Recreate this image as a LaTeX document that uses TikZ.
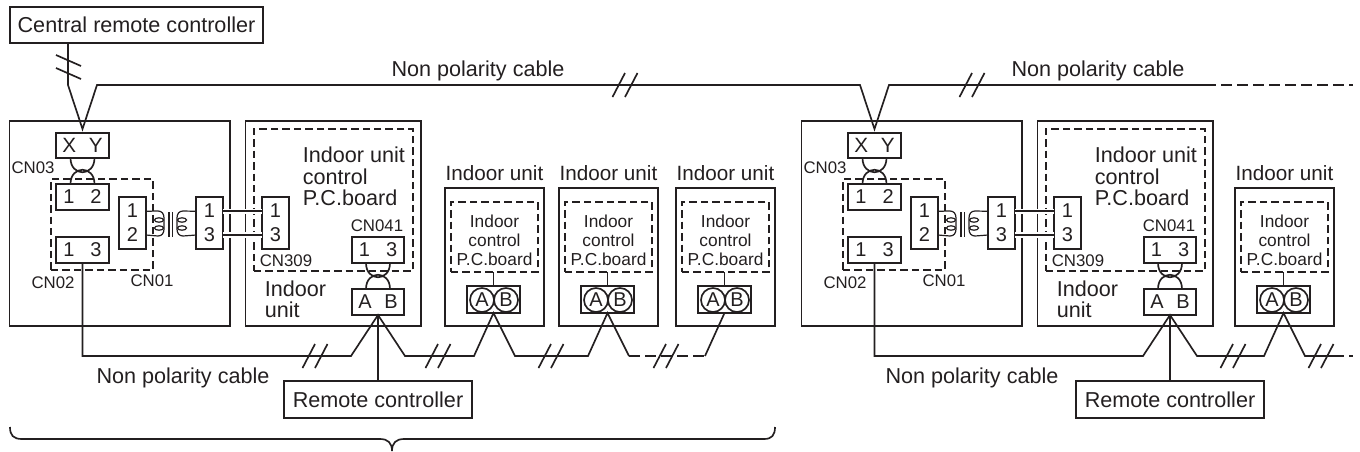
\documentclass[tikz,border=0pt]{standalone}
\usepackage{fontspec}
\setmainfont{Liberation Sans}
\definecolor{wire ink}{RGB}{35,31,32}
\newcommand{\crossarcs}[2]{
	\draw ([xshift=-9pt]#1.south) .. controls +(0,19) and +(0,19) .. ([xshift=9pt]#1.south);
	\draw ([xshift=-9pt]#2.north) .. controls +(0,-19) and +(0,-19) .. ([xshift=9pt]#2.north);
}
\begin{document}
\begin{tikzpicture}[
					x=0.75pt, y=-0.75pt,
					line width=1.25pt, draw=wire ink, text=wire ink,
					wh/.style 2 args={minimum width=#1*0.75pt, minimum height=#2*0.75pt},
					base box/.style={draw, inner sep=0pt, outer sep=0pt},
					unit box/.style={base box},
					board box/.style={base box, dash pattern=on 5.6pt off 3pt},
					pin box/.style={base box, font=\fontsize{15}{18}\selectfont, align=center},
					pin ring/.style={base box, circle, minimum size=18pt, font=\fontsize{15}{16}\selectfont},
					main label/.style={inner sep=0pt, font=\fontsize{16.2}{16}\selectfont},
					unit label/.style={inner sep=0pt, font=\fontsize{15.5}{16}\selectfont},
					board label/.style={inner sep=0pt, align=center, font=\fontsize{13}{14.3}\selectfont},
					cn label/.style={inner sep=0pt, font=\fontsize{12.6}{14}\selectfont},
					coil line/.style={line width=0.9pt},
					halo wire/.style={preaction={draw=white, line width=4pt}},
					late dash/.style={dash pattern=on 8pt off 4pt},
					cable break/.pic={
						\draw (-12.5,12) -- (0,-12);
						\draw (0,12) -- (12.5,-12);
					},
				]
	\useasboundingbox (0,0) rectangle (1360,451);

	\node[base box, main label, inner sep=0pt, wh={253}{36}] (central) at (136.5,25) {Central remote controller};
	\node[main label] at (478,71) {Non polarity cable};
	\node[main label] at (1098,71) {Non polarity cable};
	\node[main label] at (183,378) {Non polarity cable};
	\node[main label] at (972,378) {Non polarity cable};

	% the two adapter and main unit panels
	\foreach \p/\off in {0/0,1/792} {
		\begin{scope}[shift={(\off,0)}]
			\node[unit box, wh={220.5}{205}] (adapter\p) at (119.75,223.5) {};
			\node[unit box, wh={175.5}{205}] (main\p) at (333.25,223.5) {};
			\node[board box, wh={102}{91}] (cnboard\p) at (102,224.5) {};
			\node[board box, wh={159}{142}] (mainboard\p) at (333.5,200) {};

			\node[pin box, font=\fontsize{15.5}{18}\selectfont, wh={53}{25}] (xy\p) at (82.5,145.5) {X\hspace{9.5pt}Y};
			\node[pin box, wh={53}{26}] (cnup\p) at (82.5,197) {1\hspace{12pt}2};
			\node[pin box, wh={53}{26}] (cnlow\p) at (82.5,250) {1\hspace{12pt}3};
			\node[pin box, wh={27}{52}] (cnleft\p) at (132.5,223) {1\\2};
			\node[pin box, wh={27}{52}] (cnright\p) at (209.5,223) {1\\3};
			\node[pin box, wh={27}{52}] (cnmain\p) at (275.5,223) {1\\3};
			\node[pin box, wh={52}{26}] (cnrc\p) at (378,250) {1\hspace{12pt}3};
			\node[pin box, wh={52}{26}] (ab\p) at (378,302) {A\hspace{9.5pt}B};

			\node[cn label] at (33,168) {CN03};
			\node[cn label] at (53,283) {CN02};
			\node[cn label] at (152,281) {CN01};
			\node[cn label] at (286,261) {CN309};
			\node[cn label] at (377,226) {CN041};
			\node[main label, anchor=north west, align=left, font=\fontsize{16.2}{16.2}\selectfont] at (302,146) {Indoor unit\\control\\P.C.board};
			\node[main label, anchor=north west, align=left, font=\fontsize{16.2}{16}\selectfont] at (264,280) {Indoor\\unit};

			\node[base box, main label, wh={188}{37}] (remote\p) at (378,399.5) {Remote controller};

			\crossarcs{xy\p}{cnup\p}
			\crossarcs{cnrc\p}{ab\p}

			% transformer
			\coordinate (lefttop\p) at ([yshift=8.8pt]cnleft\p.east);
			\coordinate (leftlow\p) at ([yshift=-9pt]cnleft\p.east);
			\coordinate (righttop\p) at ([yshift=8.8pt]cnright\p.west);
			\coordinate (rightlow\p) at ([yshift=-9pt]cnright\p.west);
			\draw[coil line] (lefttop\p) -- (158,211) .. controls (162,211) and (164,214) .. (164,218) -- (164,229) .. controls (164,233) and (162,236) .. (158,236) -- (leftlow\p);
			\draw[coil line] (righttop\p) -- (183,211) .. controls (179,211) and (177,214) .. (177,218) -- (177,229) .. controls (177,233) and (179,236) .. (183,236) -- (rightlow\p);
			\draw[coil line] (169,212) -- (169,237);
			\draw[coil line] (172.5,212) -- (172.5,237);
			\foreach \oy in {220,228} {
				\draw[coil line] (159,\oy) ellipse[x radius=4.5, y radius=2.2];
				\draw[coil line] (182,\oy) ellipse[x radius=4.5, y radius=2.2];
			}
			\draw[halo wire] ([yshift=8.8pt]cnright\p.east) -- ([yshift=8.8pt]cnmain\p.west);
			\draw[halo wire] ([yshift=-9pt]cnright\p.east) -- ([yshift=-9pt]cnmain\p.west);

			\draw (ab\p.south) -- (remote\p.north);
			\coordinate (wirein\p) at (351,356);
			\coordinate (wireout\p) at (405,356);
			\coordinate (apex\p) at (82.5,129);
		\end{scope}
	}

	% the small indoor units
	\foreach \n/\ox in {a/445,b/559,c/676,d/1235} {
		\begin{scope}[shift={(\ox,0)}]
			\node[unit label] at (49.5,173) {Indoor unit};
			\node[unit box, wh={99}{138}] (unit\n) at (49.5,257) {};
			\node[board box, wh={87}{70}] (board\n) at (49.5,237) {};
			\node[board label] at (49.5,240) {Indoor\\control\\P.C.board};
			\node[base box, wh={53}{27}] (term\n) at (48.5,299.5) {};
			\node[pin ring] (ringa\n) at (37,300) {A};
			\node[pin ring] (ringb\n) at (61,300) {B};
			\draw (board\n.south -| term\n) -- (term\n);
			\coordinate (in\n) at (29,356);
			\coordinate (out\n) at (70,356);
		\end{scope}
	}

	% cables
	\coordinate (drop) at (68,85);
	\coordinate (topa) at (97,85);
	\coordinate (topb) at (860,85);
	\coordinate (topc) at (889,85);
	\coordinate (topd) at (1205,85);
	\coordinate (tope) at (1353,85);
	\coordinate (lowend) at (1353,356);
	\coordinate (lowcut) at (1333,356);
	\draw (drop |- central.south) -- (drop) -- (apex0) -- (topa) -- (topb) -- (apex1) -- (topc) -- (topd);
	\draw[late dash] (topd) -- (tope);
	\draw (cnlow0.south) |- (wirein0) -- (ab0.south) -- (wireout0) -- (ina) -- (terma.south) -- (outa) -- (inb) -- (termb.south) -- (outb);
	\draw[late dash] (outb) -- (inc);
	\draw (inc) -- (termc.south);
	\draw (cnlow1.south) |- (wirein1) -- (ab1.south) -- (wireout1) -- (ind) -- (termd.south) -- (outd) -- (lowcut);
	\draw[late dash] (lowcut) -- (lowend);

	\draw (56,55) -- (81,66);
	\draw (56,68) -- (81,79);
	\foreach \bx/\by in {625/85,972/85,315/356,438/356,551/356,666/356,1233/356,1321/356} {
		\pic at (\bx,\by) {cable break};
	}

	% bracket
	\draw (10,427) .. controls (10,435) and (13,439) .. (22,439) -- (380,439) .. controls (388,439) and (392,443) .. (392,451) .. controls (392,443) and (396,439) .. (404,439) -- (764,439) .. controls (772,439) and (775,435) .. (775,427);
\end{tikzpicture}
\end{document}
